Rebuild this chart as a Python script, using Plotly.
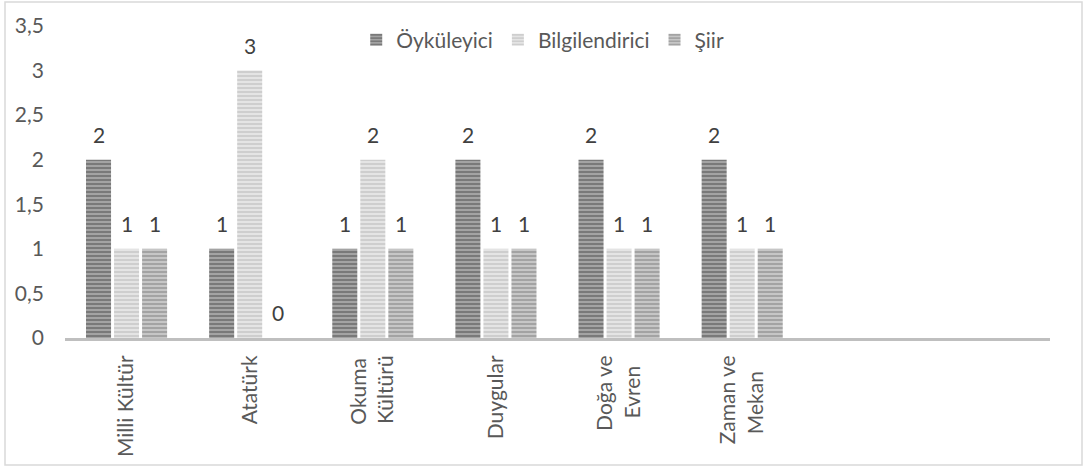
import plotly.graph_objects as go

categories = ["Milli Kültür", "Atatürk", "Okuma Kültürü", "Duygular", "Doğa ve Evren", "Zaman ve Mekan", " ", "  "]
tick_labels = ["Milli Kültür", "Atatürk", "Okuma\u2009<br>Kültürü", "Duygular",
               "Doğa ve<br>Evren\u2002", "Zaman ve<br>Mekan\u2002\u2005", " ", "  "]
oykuleyici = [2, 1, 1, 2, 2, 2, None, None]
bilgilendirici = [1, 3, 2, 1, 1, 1, None, None]
siir = [1, 0, 1, 1, 1, 1, None, None]
series_names = ["Öyküleyici", "Bilgilendirici", "Şiir"]
y_ticks = [0, 0.5, 1, 1.5, 2, 2.5, 3, 3.5]
y_ticktext = ["0", "0,5", "1", "1,5", "2", "2,5", "3", "3,5"]

FONT = "Lato"
FS = 21
styles = [
    dict(bg="#a3a3a3", fg="#505050"),
    dict(bg="#e4e4e4", fg="#b8b8b8"),
    dict(bg="#c6c6c6", fg="#808080"),
]

W, H = 1084, 470
L, R, T, B = 65, 34, 26, 132
pw, ph = W - L - R, H - T - B
BARGAP, GROUPGAP = 0.317, 0.107
slot_px = pw / len(categories) * (1 - BARGAP) / 3

fig = go.Figure()
annotations = []
all_series = [oykuleyici, bilgilendirici, siir]
for i, (name, vals, st) in enumerate(zip(series_names, all_series, styles)):
    fig.add_trace(go.Bar(
        name=name, x=categories, y=vals,
        marker=dict(color=st["bg"], line=dict(width=0),
                    pattern=dict(shape="-", fgcolor=st["fg"], bgcolor=st["bg"],
                                 size=4, solidity=0.5, fillmode="overlay")),
    ))
    for c, v in zip(categories, vals):
        if v is None:
            continue
        annotations.append(dict(
            x=c, y=v, xref="x", yref="y", text=str(v), showarrow=False,
            xanchor="center", yanchor="bottom", yshift=11,
            xshift=(i - 1) * slot_px,
            font=dict(family=FONT, size=FS, color="#404040"),
        ))

fig.update_layout(
    width=W, height=H,
    paper_bgcolor="white", plot_bgcolor="white",
    margin=dict(l=L, r=R, t=T, b=B, autoexpand=False),
    barmode="group", bargap=BARGAP, bargroupgap=GROUPGAP,
    separators=",.",
    font=dict(family=FONT, size=FS, color="#595959"),
    showlegend=True,
    legend=dict(orientation="h", x=0.485, xanchor="center", y=0.955, yanchor="middle",
                font=dict(family=FONT, size=FS, color="#595959"),
                bgcolor="rgba(0,0,0,0)", itemwidth=30, tracegroupgap=0),
    annotations=annotations,
    shapes=[dict(type="rect", xref="paper", yref="paper",
                 x0=(5 - L) / pw, x1=(1082 - L) / pw,
                 y0=-(465 - (H - B)) / ph, y1=1 + (T - 2) / ph,
                 line=dict(color="#d9d9d9", width=1.5), layer="below")],
)
fig.update_xaxes(
    type="category", categoryorder="array", categoryarray=categories,
    tickvals=categories, ticktext=tick_labels,
    showline=True, linecolor="#bfbfbf", linewidth=3,
    showgrid=False, ticks="", tickangle=-90, automargin=False,
    tickfont=dict(family=FONT, size=FS, color="#595959"),
    ticklabelstandoff=6,
)
fig.update_yaxes(
    range=[0, 3.5], tickvals=y_ticks, ticktext=y_ticktext,
    showgrid=False, showline=False, zeroline=False, ticks="", automargin=False,
    tickfont=dict(family=FONT, size=FS, color="#595959"),
    ticklabelstandoff=20,
)
fig.write_html("out.html", config={"displayModeBar": False},
               post_script="document.body.style.margin='0';")
